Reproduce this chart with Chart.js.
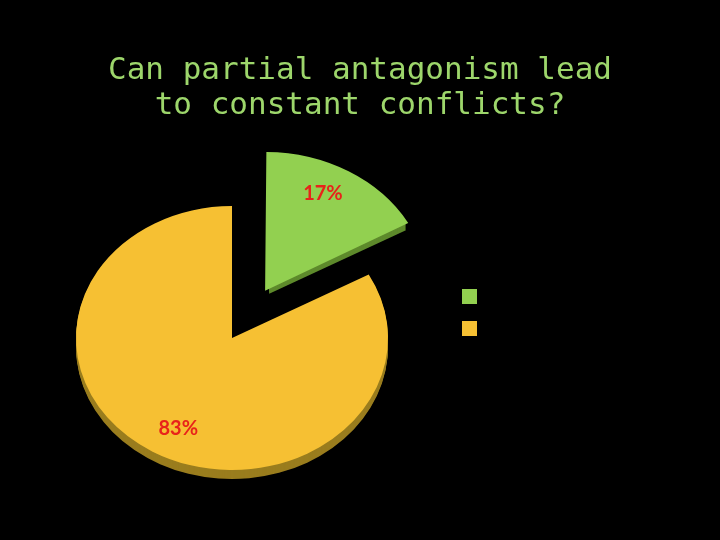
<!DOCTYPE html>
<html>
<head>
<meta charset="utf-8">
<script src="https://cdn.jsdelivr.net/npm/chart.js@4.4.1/dist/chart.umd.min.js"></script>
<style>
html,body{margin:0;padding:0;background:#000;}
#wrap{width:720px;height:540px;position:relative;}
</style>
</head>
<body>
<div id="wrap"><canvas id="c" width="720" height="540"></canvas></div>
<script>
const titleLines = ["Can partial antagonism lead", "to constant conflicts?"];
const categories = ["Yes", "No"];
const values = [17, 83];
const percentLabels = ["17%", "83%"];

const topColors = ["#92D050", "#F6C033"];
const sideColors = ["#5E8A2C", "#9A7D1E"];
const TILT = 0.846;
const DEPTH = 9;

function arcOffsetVec(arc) {
  const off = (arc.options.offset || 0) / 4;
  const circ = arc.endAngle - arc.startAngle;
  const fix = 1 - Math.sin(Math.min(Math.PI, circ || 0));
  const d = off + off * fix;
  const mid = (arc.startAngle + arc.endAngle) / 2;
  return {x: Math.cos(mid) * d, y: Math.sin(mid) * d};
}

const tiltPlugin = {
  id: 'tilt3d',
  beforeDatasetsDraw(chart) {
    const ctx = chart.ctx;
    const arcs = chart.getDatasetMeta(0).data;
    const cx = arcs[0].x, cy = arcs[0].y;
    for (let dy = DEPTH; dy >= 1; dy--) {
      arcs.forEach((arc, i) => {
        const o = arcOffsetVec(arc);
        ctx.save();
        ctx.translate(0, dy);
        ctx.translate(cx, cy);
        ctx.scale(1, TILT);
        ctx.translate(-cx, -cy);
        ctx.translate(o.x, o.y);
        ctx.beginPath();
        ctx.moveTo(arc.x, arc.y);
        ctx.arc(arc.x, arc.y, arc.outerRadius, arc.startAngle, arc.endAngle);
        ctx.closePath();
        ctx.fillStyle = sideColors[i];
        ctx.fill();
        ctx.restore();
      });
    }
    ctx.save();
    ctx.translate(cx, cy);
    ctx.scale(1, TILT);
    ctx.translate(-cx, -cy);
  },
  afterDatasetsDraw(chart) {
    const ctx = chart.ctx;
    ctx.restore();
    const arcs = chart.getDatasetMeta(0).data;
    const cy = arcs[0].y;
    ctx.save();
    ctx.font = 'bold 20px Lato, "Liberation Sans", sans-serif';
    ctx.fillStyle = '#E8231A';
    ctx.textAlign = 'center';
    ctx.textBaseline = 'middle';
    arcs.forEach((arc, i) => {
      const o = arcOffsetVec(arc);
      const mid = (arc.startAngle + arc.endAngle) / 2 - 0.07;
      const r = arc.outerRadius * 0.77;
      const ux = arc.x + o.x + Math.cos(mid) * r;
      const uy = arc.y + o.y + Math.sin(mid) * r;
      const sy = cy + (uy - cy) * TILT;
      ctx.fillText(percentLabels[i], ux, sy);
    });
    ctx.restore();
  }
};

new Chart(document.getElementById('c'), {
  type: 'pie',
  data: {
    labels: categories,
    datasets: [{
      data: values,
      backgroundColor: topColors,
      borderWidth: 0,
      offset: [260, 0],
      radius: 156
    }]
  },
  options: {
    responsive: false,
    animation: false,
    events: [],
    layout: {padding: {left: 12, right: 12, top: 0, bottom: 0}},
    plugins: {
      tooltip: {enabled: false},
      title: {
        display: true,
        text: titleLines,
        color: '#9DD66B',
        font: {family: '"DejaVu Sans Mono", monospace', size: 31, weight: 'normal', lineHeight: 1.13},
        padding: {top: 53, bottom: 13}
      },
      subtitle: {
        display: true,
        position: 'right',
        text: '',
        font: {size: 10, lineHeight: 1},
        padding: {top: 93, bottom: 93}
      },
      legend: {
        display: true,
        position: 'right',
        align: 'start',
        maxWidth: 60,
        title: {display: true, text: ' ', color: '#000', font: {size: 10, lineHeight: 1}, padding: {top: 265.5, bottom: 0}},
        labels: {
          color: '#000000',
          boxWidth: 15,
          boxHeight: 15,
          padding: 10,
          font: {size: 22, family: 'Lato, sans-serif'}
        }
      }
    }
  },
  plugins: [tiltPlugin]
});
</script>
</body>
</html>
